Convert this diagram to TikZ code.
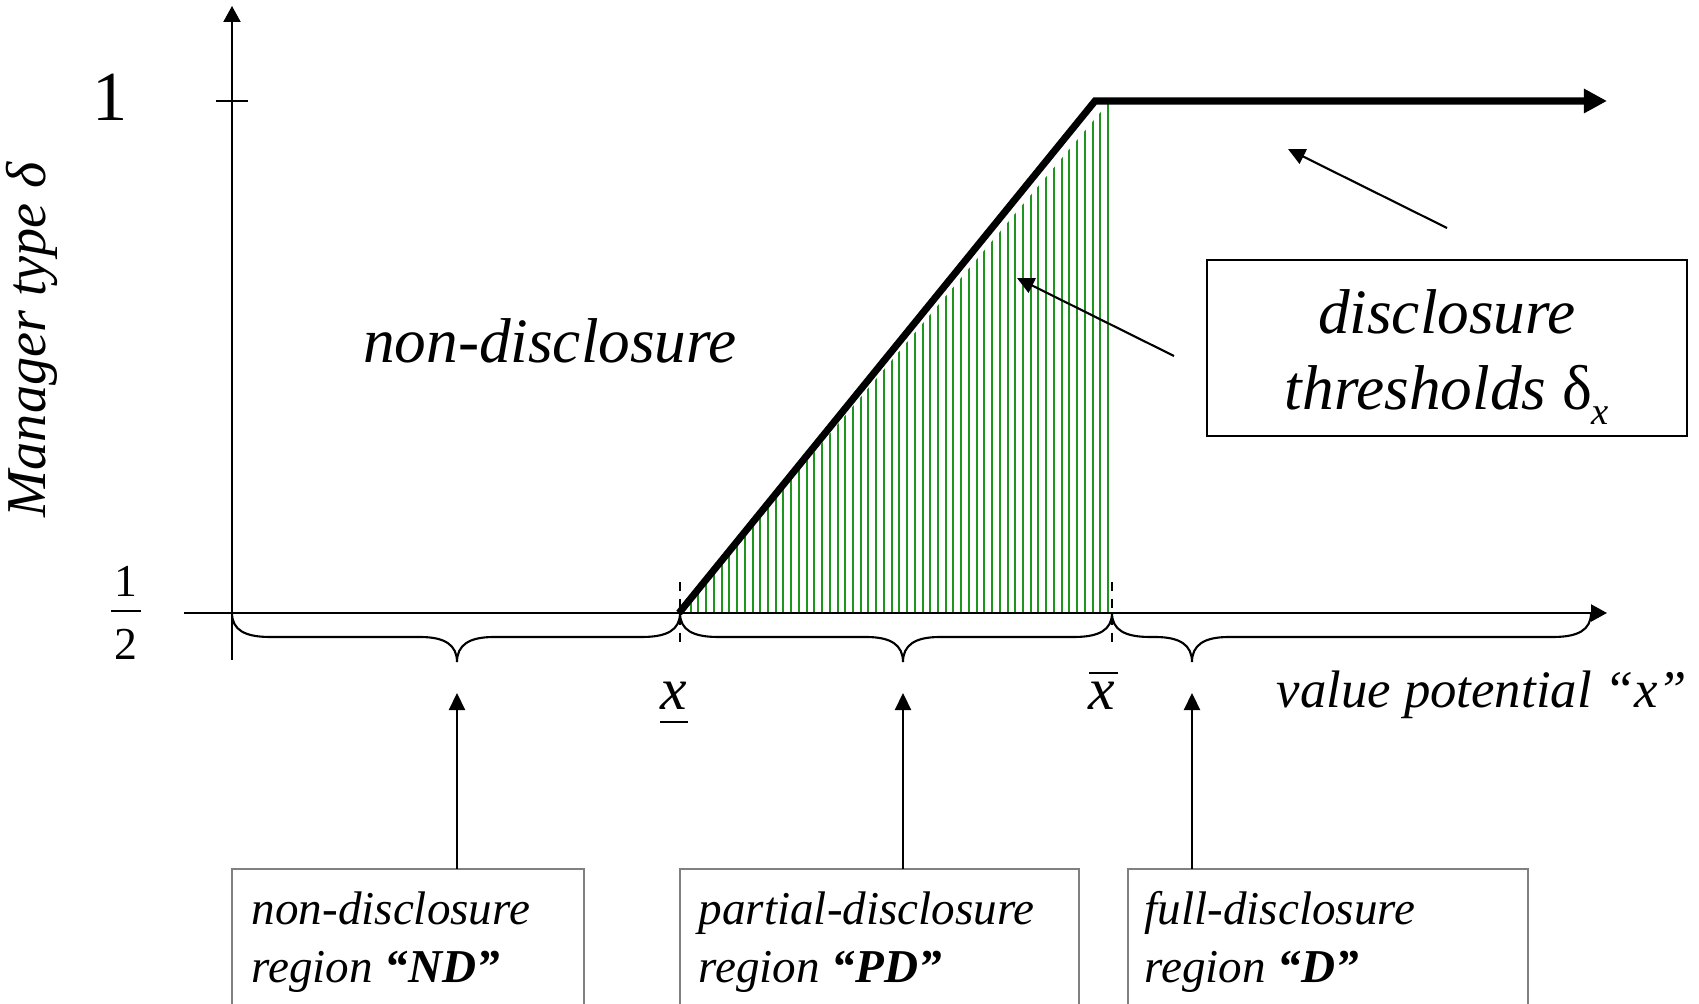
\documentclass[tikz,border=0pt]{standalone}
\usepackage{fontspec}
\setmainfont{Liberation Serif}[ItalicFont={Liberation Serif Italic},BoldFont={Liberation Serif Bold},BoldItalicFont={Liberation Serif Bold Italic}]
\usetikzlibrary{arrows.meta,calc}
\definecolor{hatchgreen}{RGB}{30,150,30}
\definecolor{boxgray}{RGB}{128,128,128}
\begin{document}
\begin{tikzpicture}[x=0.01cm,y=-0.01cm,
  axisline/.style={line width=0.6pt,-{Triangle[length=0.16cm,width=0.17cm]}},
  thickline/.style={line width=2pt,-{Triangle[length=0.23cm,width=0.23cm]}},
  hatchline/.style={hatchgreen,line width=0.55pt},
  braceline/.style={line width=0.6pt},
  dashline/.style={line width=0.5pt,dash pattern=on 2.6pt off 2.2pt},
  regbox/.style={draw=boxgray,line width=0.6pt,inner sep=0pt,outer sep=0pt,anchor=north west,minimum height=2cm},
  boxtext/.style={font=\fontsize{13.4}{16}\selectfont\itshape,inner sep=0pt,anchor=base west},
  thinarrow/.style={line width=0.6pt,-{Triangle[length=0.17cm,width=0.16cm]}},
  thbox/.style={draw,line width=0.6pt,inner sep=0pt,minimum width=4.80cm,minimum height=1.76cm},
  thtext/.style={inner sep=0pt,align=center,font=\fontsize{18}{21.5}\selectfont\itshape},
  biglabel/.style={font=\fontsize{18}{21}\selectfont\itshape,inner sep=0pt},
  xlabel/.style={font=\fontsize{17}{20}\selectfont\itshape,inner sep=0pt,anchor=base}
]
\useasboundingbox (0,0) rectangle (1699,1004);
\clip (0,0) rectangle (1699,1004);

% green hatching of the partial-disclosure region
\begin{scope}
  \clip (679,613) -- (1110,101) -- (1110,613) -- cycle;
  \foreach \i in {0,...,55}
    \draw[hatchline] ({683+7.727*\i},614) -- ({683+7.727*\i},95);
\end{scope}

% axes
\coordinate (xstart) at (184,613);
\coordinate (xend) at (1607,613);
\coordinate (ystart) at (232,660);
\coordinate (yend) at (232,6);
\draw[axisline] (xstart) -- (xend);
\draw[axisline] (ystart) -- (yend);
\coordinate (tickl) at (216,101);
\coordinate (tickr) at (248,101);
\draw[line width=0.6pt] (tickl) -- (tickr);

% threshold curve
\coordinate (xlowpt) at (679,613);
\coordinate (corner) at (1095,101);
\coordinate (curveend) at (1607,101);
\draw[thickline,line join=miter] (xlowpt) -- (corner) -- (curveend);

% dashed markers
\coordinate (dl1) at (680,582); \coordinate (dl2) at (680,646);
\coordinate (dh1) at (1112,582); \coordinate (dh2) at (1112,646);
\draw[dashline] (dl1) -- (dl2);
\draw[dashline] (dh1) -- (dh2);

% braces
\draw[braceline] (232,613) .. controls (232,630) and (245,637) .. (270,637) -- (420,637)
  .. controls (445,637) and (457,645) .. (457,662)
  .. controls (457,645) and (469,637) .. (494,637) -- (642,637)
  .. controls (667,637) and (680,630) .. (680,613);
\draw[braceline] (680,613) .. controls (680,630) and (693,637) .. (718,637) -- (866,637)
  .. controls (891,637) and (903,645) .. (903,662)
  .. controls (903,645) and (915,637) .. (940,637) -- (1074,637)
  .. controls (1099,637) and (1112,630) .. (1112,613);
\draw[braceline] (1112,613) .. controls (1112,630) and (1125,637) .. (1150,637) -- (1155,637)
  .. controls (1180,637) and (1192,645) .. (1192,662)
  .. controls (1192,645) and (1204,637) .. (1229,637) -- (1553,637)
  .. controls (1578,637) and (1591,630) .. (1591,613);

% axis labels
\node[font=\fontsize{20}{24}\selectfont,inner sep=0pt,anchor=base] (one) at (110,121) {1};
\node[font=\fontsize{13}{15}\selectfont,inner sep=0pt,anchor=base] (num) at (126,597) {1};
\node[font=\fontsize{13}{15}\selectfont,inner sep=0pt,anchor=base] (den) at (126,660) {2};
\coordinate (fbl) at (111,611); \coordinate (fbr) at (141,611);
\draw[line width=0.5pt] (fbl) -- (fbr);
\node[font=\fontsize{16}{19}\selectfont\itshape,inner sep=0pt,anchor=base,rotate=90] (ylab) at (45,340) {Manager type δ};

\node[xlabel] (xlow) at (674,710) {x};
\coordinate (ul1) at (660,722); \coordinate (ul2) at (688,722);
\draw[line width=0.6pt] (ul1) -- (ul2);
\node[xlabel] (xhigh) at (1102,710) {x};
\coordinate (ol1) at (1089,673); \coordinate (ol2) at (1118,673);
\draw[line width=0.6pt] (ol1) -- (ol2);
\node[font=\fontsize{15}{18}\selectfont\itshape,inner sep=0pt,anchor=base west] (vp) at (1276,708) {value potential “x”};

\node[biglabel,anchor=base] (ndlabel) at (550,363) {non-disclosure};

% thresholds box and arrows
\node[thbox] (th) at (1447,348) {};
\node[thtext] (thtxt) at (1447,357) {disclosure\\thresholds {\upshape δ}\raisebox{-4.2pt}{\fontsize{11}{11}\selectfont x}};
\coordinate (a1s) at (1174,356); \coordinate (a1e) at (1017,278);
\draw[thinarrow] (a1s) -- (a1e);
\coordinate (a2s) at (1447,228); \coordinate (a2e) at (1288,149);
\draw[thinarrow] (a2s) -- (a2e);

% region boxes
\node[regbox,minimum width=3.52cm] (ndbox) at (232,869) {};
\node[regbox,minimum width=3.99cm] (pdbox) at (680,869) {};
\node[regbox,minimum width=4.00cm] (dbox) at (1128,869) {};
\node[boxtext] (nd1) at (251,925) {non-disclosure};
\node[boxtext] (nd2) at (251,983) {region \textbf{“ND”}};
\node[boxtext] (pd1) at (698,925) {partial-disclosure};
\node[boxtext] (pd2) at (698,983) {region \textbf{“PD”}};
\node[boxtext] (d1) at (1144,925) {full-disclosure};
\node[boxtext] (d2) at (1144,983) {region \textbf{“D”}};

\coordinate (t1) at (457,693);
\coordinate (t2) at (903,693);
\coordinate (t3) at (1192,693);
\draw[thinarrow] (ndbox.north -| t1) -- (t1);
\draw[thinarrow] (pdbox.north -| t2) -- (t2);
\draw[thinarrow] (dbox.north -| t3) -- (t3);
\end{tikzpicture}
\end{document}
